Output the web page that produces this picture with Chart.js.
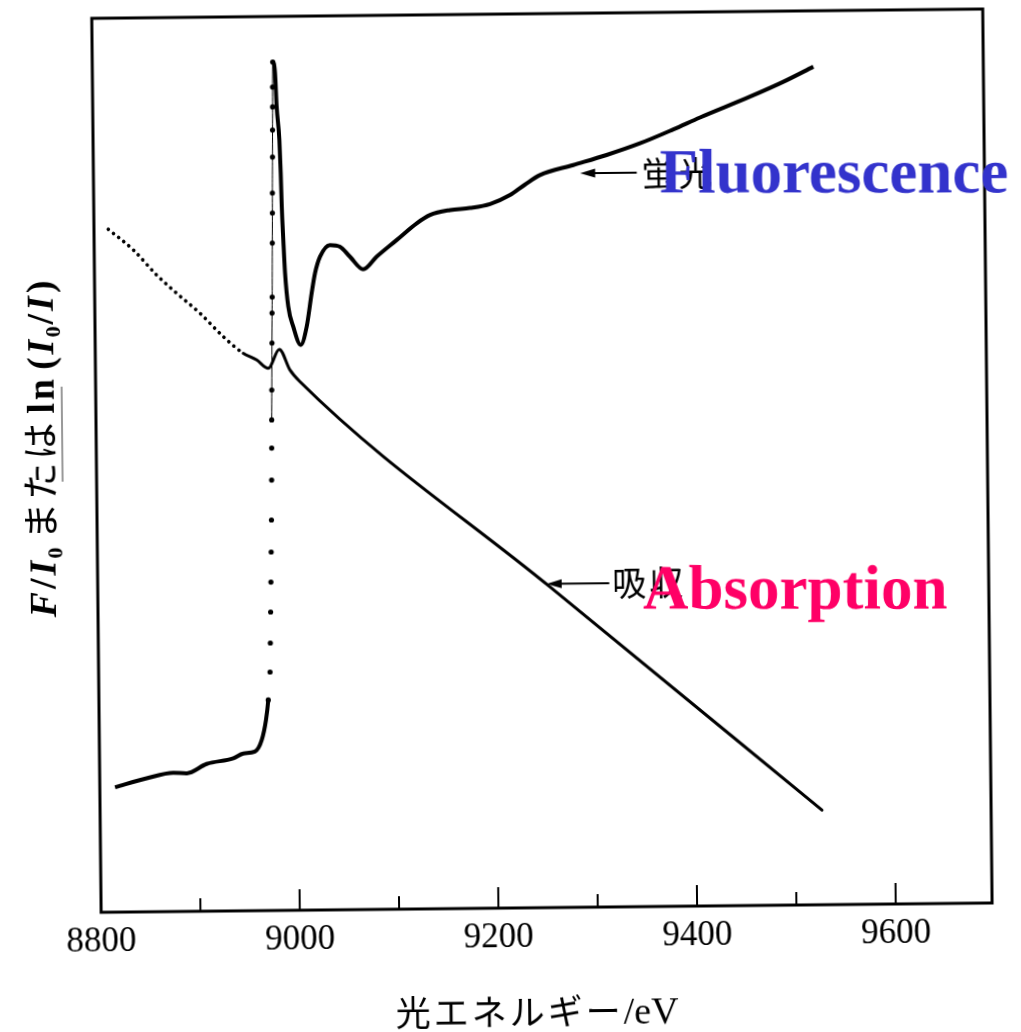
<!DOCTYPE html>
<html>
<head>
<meta charset="utf-8">
<script src="https://cdn.jsdelivr.net/npm/chart.js@4.4.1/dist/chart.umd.min.js"></script>
<style>
  html, body { margin: 0; padding: 0; background: #fff; overflow: hidden; }
  /* the printed figure sits slightly tilted on the page */
  #wrap { position: relative; width: 1021px; height: 1032px; transform: rotate(-0.6deg); transform-origin: 50% 50%; }
</style>
</head>
<body>
<div id="wrap"><canvas id="grafico"></canvas></div>
<script>
// 蛍光 F/I0 (eV, arb. units)
const fluorEnergy = [8815.3, 8847.2, 8874.1, 8887.6, 8907.8, 8934.7, 8944.8, 8956.5, 8963.5, 8968.0,
  8970.5, 8972.6, 8973.2, 8973.8, 8974.4, 8975.0, 8975.6, 8976.2, 8976.6, 8976.9,
  8977.3, 8978.0, 8978.4, 8978.7, 8979.4, 8979.8, 8980.0, 8980.5, 8980.8, 8981.1,
  8981.3, 8981.7, 8983.9, 8985.2, 8987.6, 8988.6, 8989.3, 8990.5, 8991.9, 8994.8,
  8999.6, 9006.9, 9013.1, 9018.5, 9022.1, 9027.3, 9037.4, 9047.5, 9057.4, 9070.7,
  9084.3, 9104.6, 9125.0, 9138.5, 9158.6, 9178.7, 9199.0, 9219.2, 9234.4, 9249.6,
  9283.2, 9316.9, 9350.6, 9384.3, 9411.3, 9461.8, 9495.6, 9525.9];
const fluorSignal = [13.97, 14.93, 15.53, 15.45, 16.47, 17.07, 17.60, 17.80, 19.08, 21.32,
  23.55, 26.68, 29.92, 33.39, 36.74, 40.10, 43.68, 48.15, 51.73, 54.87,
  58.22, 63.48, 66.83, 68.62, 74.66, 78.02, 80.26, 84.28, 87.30, 89.88,
  92.11, 94.91, 93.68, 89.91, 86.17, 82.48, 78.71, 74.99, 71.30, 67.52,
  65.28, 63.22, 65.26, 69.03, 71.25, 73.08, 74.37, 74.17, 73.04, 71.61,
  73.01, 74.85, 76.70, 77.61, 78.14, 78.35, 78.77, 79.75, 80.90, 81.95,
  83.03, 84.12, 85.38, 86.90, 88.20, 90.47, 92.10, 93.75];

// 吸収 ln(I0/I)
const absEnergy = [8814.4, 8839.4, 8862.6, 8882.6, 8905.8, 8929.1, 8949.0, 8962.4, 8974.1, 8985.3,
  8995.8, 9005.8, 9255.4, 9526.8];
const absSignal = [76.39, 74.05, 71.22, 69.15, 66.89, 64.24, 62.36, 61.60, 60.65, 62.76,
  60.44, 59.12, 35.86, 10.59];

const xTicks = [8800, 8900, 9000, 9100, 9200, 9300, 9400, 9500, 9600];
const xLabels = [8800, 9000, 9200, 9400, 9600];

const xMin = 8800;
const xMax = 9697;

// edge region: sampled points drawn as dots
const riseFrom = 8970.4;
const riseTo = 8981.8;

const tilt = 0.6 * Math.PI / 180;
const serif = '"Liberation Serif", "Times New Roman", serif';
const cjk = '"Noto Sans CJK JP", sans-serif';

function toPoints(xs, ys) {
    return xs.map((v, i) => ({ x: v, y: ys[i] }));
}

function inRise(s) {
    return s.p0.parsed.x >= riseFrom && s.p1.parsed.x <= riseTo;
}

// draws a run of text pieces with different fonts, centred on cx
function richText(ctx, parts, cx, baseY) {
    let total = 0;
    parts.forEach(p => {
        ctx.font = p.font;
        ctx.letterSpacing = p.spacing || '0px';
        p.w = ctx.measureText(p.text).width + (p.gap || 0);
        total += p.w;
    });
    let px = cx - total / 2;
    parts.forEach(p => {
        ctx.font = p.font;
        ctx.letterSpacing = p.spacing || '0px';
        ctx.fillText(p.text, px, baseY + (p.dy || 0));
        px += p.w;
    });
    ctx.letterSpacing = '0px';
}

function leftArrow(ctx, x0, x1, y) {
    ctx.lineWidth = 2;
    ctx.beginPath(); ctx.moveTo(x0 + 8, y); ctx.lineTo(x1, y); ctx.stroke();
    ctx.beginPath();
    ctx.moveTo(x0, y); ctx.lineTo(x0 + 15, y - 4.5); ctx.lineTo(x0 + 15, y + 4.5);
    ctx.closePath(); ctx.fill();
}

const moldura = {
    id: 'moldura',
    afterDraw(chart) {
        const { ctx, chartArea: a, scales: { x, y } } = chart;
        ctx.save();
        ctx.strokeStyle = '#000';
        ctx.fillStyle = '#000';

        // frame
        ctx.lineWidth = 3;
        ctx.strokeRect(a.left, a.top, a.right - a.left, a.bottom - a.top);

        // inward tick marks
        ctx.lineWidth = 2;
        xTicks.forEach(v => {
            const px = x.getPixelForValue(v);
            const len = xLabels.includes(v) ? 21 : 13;
            ctx.beginPath(); ctx.moveTo(px, a.bottom); ctx.lineTo(px, a.bottom - len); ctx.stroke();
        });

        // curve labels with arrows
        ctx.textBaseline = 'middle';
        const fy = y.getPixelForValue(82.1);
        leftArrow(ctx, x.getPixelForValue(9290), x.getPixelForValue(9347), fy);
        ctx.font = '34px ' + cjk;
        ctx.textAlign = 'left';
        ctx.letterSpacing = '3px';
        ctx.fillText('蛍光', x.getPixelForValue(9352), fy + 1);

        const ay = y.getPixelForValue(36.2);
        leftArrow(ctx, x.getPixelForValue(9252), x.getPixelForValue(9315), ay);
        ctx.fillText('吸収', x.getPixelForValue(9318), ay);
        ctx.letterSpacing = '0px';

        // x axis title
        ctx.textBaseline = 'alphabetic';
        richText(ctx, [
            { text: '光エネルギー', font: '35px ' + cjk, spacing: '3px' },
            { text: '/eV', font: '38px ' + serif }
        ], 532, 1025);

        // y axis title, reading bottom to top
        ctx.save();
        ctx.translate(42, 444);
        ctx.rotate(-Math.PI / 2);
        const b = 'bold 38px ' + serif;
        const bi = 'italic bold 38px ' + serif;
        const sub = 'bold 22px ' + serif;
        richText(ctx, [
            { text: 'F', font: bi, spacing: '3px' },
            { text: '/', font: b, spacing: '3px' },
            { text: 'I', font: bi, spacing: '2px' },
            { text: '0', font: sub, dy: 7, gap: 8 },
            { text: 'または', font: '37px ' + cjk, spacing: '3px', gap: 6 },
            { text: 'ln', font: b, spacing: '3px', gap: 6 },
            { text: '(', font: b, spacing: '3px' },
            { text: 'I', font: bi, spacing: '2px' },
            { text: '0', font: sub, dy: 7, gap: 2 },
            { text: '/', font: b, spacing: '3px' },
            { text: 'I', font: bi, spacing: '3px' },
            { text: ')', font: b }
        ], 0, 13);
        ctx.restore();

        // faint rule beside the y title
        ctx.strokeStyle = '#555';
        ctx.lineWidth = 1.2;
        ctx.beginPath(); ctx.moveTo(63, 382); ctx.lineTo(63, 477); ctx.stroke();

        // English captions, kept level on the page
        const captions = [
            { text: 'Fluorescence', color: '#3333cc', px: 663, py: 194 },
            { text: 'Absorption', color: '#ff0066', px: 642, py: 610 }
        ];
        ctx.font = 'bold 63px ' + serif;
        ctx.textAlign = 'left';
        ctx.textBaseline = 'alphabetic';
        captions.forEach(c => {
            ctx.save();
            ctx.translate(c.px, c.py);
            ctx.rotate(tilt);
            ctx.fillStyle = c.color;
            ctx.fillText(c.text, 0, 0);
            ctx.restore();
        });
        ctx.restore();
    }
};

new Chart(document.getElementById('grafico'), {
    type: 'line',
    data: {
        datasets: [
            {
                label: '蛍光',
                data: toPoints(fluorEnergy, fluorSignal),
                borderColor: '#000',
                borderWidth: 4,
                cubicInterpolationMode: 'monotone',
                pointRadius: c => {
                    const v = fluorEnergy[c.dataIndex];
                    return v > riseFrom && v < riseTo ? 2.6 : 0;
                },
                pointBackgroundColor: '#000',
                pointBorderWidth: 0,
                segment: {
                    borderWidth: s => inRise(s) ? 1 : undefined,
                    borderColor: s => inRise(s) && s.p1.parsed.y < 58 ? 'rgba(0,0,0,0)' : undefined
                }
            },
            {
                label: '吸収',
                data: toPoints(absEnergy, absSignal),
                borderColor: '#000',
                borderWidth: 3,
                borderCapStyle: 'round',
                cubicInterpolationMode: 'monotone',
                pointRadius: 0,
                segment: {
                    borderWidth: s => s.p1.parsed.x <= 8950 ? 3.6 : undefined,
                    borderDash: s => s.p1.parsed.x <= 8950 ? [0.1, 6.5] : undefined
                }
            }
        ]
    },
    options: {
        responsive: true,
        maintainAspectRatio: false,
        animation: false,
        layout: { padding: { left: 97, right: 33, top: 14, bottom: 0 } },
        plugins: { legend: { display: false }, tooltip: { enabled: false } },
        scales: {
            x: {
                type: 'linear',
                min: xMin,
                max: xMax,
                grid: { display: false, drawTicks: false },
                border: { display: false },
                afterBuildTicks: s => { s.ticks = xTicks.map(v => ({ value: v })); },
                ticks: {
                    autoSkip: false,
                    maxRotation: 0,
                    padding: 9,
                    color: '#000',
                    font: { family: serif, size: 35 },
                    callback: v => {
                        const r = Math.round(v);
                        return xLabels.includes(r) ? String(r) : '';
                    }
                },
                afterFit: s => { s.height = 124; }
            },
            y: { display: false, min: 0, max: 100 }
        }
    },
    plugins: [moldura]
});
</script>
</body>
</html>
